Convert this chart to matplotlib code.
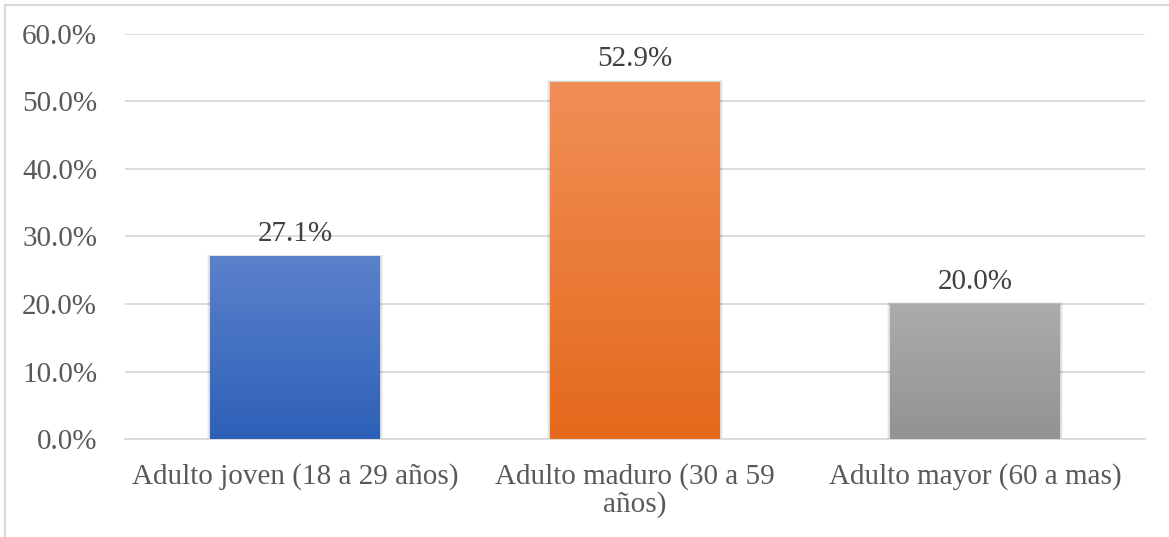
import numpy as np
import matplotlib.pyplot as plt
from matplotlib.colors import LinearSegmentedColormap
from matplotlib.patches import Rectangle
from matplotlib.lines import Line2D

categories = ["Adulto joven (18 a 29 años)", "Adulto maduro (30 a 59\naños)", "Adulto mayor (60 a mas)"]
values = [27.1, 52.9, 20.0]
yticks = [0, 10, 20, 30, 40, 50, 60]
# gradient colours (top, bottom) for each bar
gradients = [("#5b81cb", "#2d60b8"), ("#f18f57", "#e4691b"), ("#acacac", "#929292")]

plt.rcParams["font.family"] = ["Liberation Serif", "DejaVu Serif"]

fig = plt.figure(figsize=(11.69, 5.37), dpi=100)
ax = fig.add_axes([125 / 1169, 1 - 439 / 537, 1020 / 1169, 405 / 537])

x = np.arange(len(categories))
width = 0.5
ax.set_xlim(-0.5, len(categories) - 0.5)
ax.set_ylim(0, 60)

bars = ax.bar(x, values, width=width, color="none", zorder=3)

grad = np.linspace(0, 1, 256).reshape(-1, 1)
for bar, (top, bottom) in zip(bars, gradients):
    bx, by = bar.get_x(), bar.get_y()
    bw, bh = bar.get_width(), bar.get_height()
    # soft shadow around the bar
    for pad in [0.009, 0.006, 0.003]:
        sh = Rectangle((bx - pad, by), bw + 2 * pad, bh + pad * 25, facecolor="#000000",
                       alpha=0.05, edgecolor="none", zorder=2)
        ax.add_patch(sh)
    cmap = LinearSegmentedColormap.from_list("g", [bottom, top])
    im = ax.imshow(grad, extent=[bx, bx + bw, by, by + bh], origin="lower",
                   cmap=cmap, aspect="auto", zorder=3)
    im.set_clip_path(bar)
    ax.text(bx + bw / 2, bh + 1.4, f"{bh:.1f}%", ha="center", va="bottom",
            fontsize=21, color="#404040", zorder=4)

ax.set_aspect("auto")
ax.set_yticks(yticks)
ax.set_yticklabels([f"{t:.1f}%" for t in yticks])
ax.set_xticks(x)
ax.set_xticklabels(categories, linespacing=1.05)
ax.tick_params(axis="y", length=0, pad=20, labelsize=21, labelcolor="#595959")
ax.tick_params(axis="x", length=0, pad=17, labelsize=21, labelcolor="#595959")
ax.grid(axis="y", color="#d9d9d9", linewidth=1.3, zorder=0)
ax.set_axisbelow(True)
for s in ["top", "right", "left"]:
    ax.spines[s].set_visible(False)
ax.spines["bottom"].set_color("#d9d9d9")
ax.spines["bottom"].set_linewidth(1.3)

# chart frame
fig.add_artist(Line2D([5 / 1169, 5 / 1169], [0, 1 - 5 / 537], transform=fig.transFigure,
                      color="#d9d9d9", linewidth=1.5))
fig.add_artist(Line2D([5 / 1169, 1], [1 - 5 / 537, 1 - 5 / 537], transform=fig.transFigure,
                      color="#d9d9d9", linewidth=1.5))

fig.savefig("out.png", dpi=100)
